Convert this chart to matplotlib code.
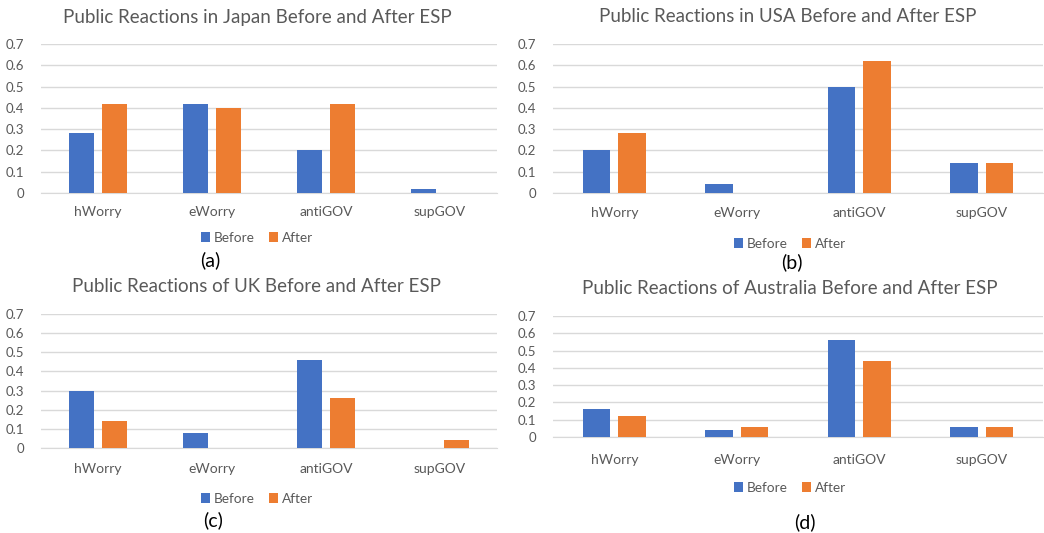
import matplotlib
matplotlib.use('Agg')
import matplotlib.pyplot as plt
import numpy as np

plt.rcParams['font.family'] = ['Lato', 'DejaVu Sans']

categories = ['hWorry', 'eWorry', 'antiGOV', 'supGOV']

japan_before = [0.28, 0.42, 0.20, 0.02]
japan_after = [0.42, 0.40, 0.42, 0.0]
usa_before = [0.20, 0.04, 0.50, 0.14]
usa_after = [0.28, 0.0, 0.62, 0.14]
uk_before = [0.30, 0.08, 0.46, 0.0]
uk_after = [0.14, 0.0, 0.26, 0.04]
aus_before = [0.16, 0.04, 0.56, 0.06]
aus_after = [0.12, 0.06, 0.44, 0.06]

y_ticks = [0, 0.1, 0.2, 0.3, 0.4, 0.5, 0.6, 0.7]

BLUE = '#4472C4'
ORANGE = '#ED7D31'
TEXT = '#595959'
GRID = '#D9D9D9'

W, H = 1044, 533
fig = plt.figure(figsize=(W / 100, H / 100), dpi=100)
fig.patch.set_facecolor('white')


def fx(x):
    return x / W


def fy(y):
    return 1 - y / H


def panel(box, title, title_xy, before, after, cat_y, leg_xy, tag, tag_xy):
    # box in pixels: left, top, right, bottom
    l, t, r, b = box
    ax = fig.add_axes([fx(l), fy(b), fx(r - l), (b - t) / H])
    x = np.arange(len(categories))
    w = 0.225
    off = 0.145
    ax.bar(x - off, before, w, color=BLUE, label='Before', zorder=3)
    ax.bar(x + off, after, w, color=ORANGE, label='After', zorder=3)
    ax.set_xlim(-0.5, len(categories) - 0.5)
    ax.set_ylim(0, 0.7)
    ax.set_yticks(y_ticks)
    ax.set_yticklabels([f'{v:g}' for v in y_ticks])
    ax.yaxis.grid(True, color=GRID, linewidth=1.0, zorder=0)
    for s in ['top', 'right', 'left']:
        ax.spines[s].set_visible(False)
    ax.spines['bottom'].set_color(GRID)
    ax.tick_params(axis='y', length=0, labelsize=9.5, labelcolor=TEXT, pad=12)
    ax.tick_params(axis='x', length=0, labelbottom=False)
    for i, c in enumerate(categories):
        fig.text(fx(l + (r - l) * (i + 0.5) / len(categories)), fy(cat_y), c,
                 ha='center', va='center', fontsize=10, color=TEXT)
    fig.text(fx(title_xy[0]), fy(title_xy[1]), title, ha='center', va='center',
             fontsize=13.5, color=TEXT)
    ax.legend(loc='center', bbox_to_anchor=(fx(leg_xy[0]), fy(leg_xy[1])),
              bbox_transform=fig.transFigure, ncol=2, frameon=False,
              fontsize=9.8, labelcolor=TEXT, handlelength=0.65, handleheight=0.75,
              handletextpad=0.3, columnspacing=1.0)
    fig.text(fx(tag_xy[0]), fy(tag_xy[1]), tag, ha='center', va='center',
             fontsize=14, color='black')
    return ax


panel((41, 44, 497, 193), 'Public Reactions in Japan Before and After ESP', (257, 17),
      japan_before, japan_after, 212, (257, 238), '(a)', (210, 260))
panel((553, 44, 1043, 193), 'Public Reactions in USA Before and After ESP', (788, 17),
      usa_before, usa_after, 213, (790, 244), '(b)', (792, 262))
panel((41, 314, 497, 448), 'Public Reactions of UK Before and After ESP', (256, 287),
      uk_before, uk_after, 469, (257, 499), '(c)', (213, 520))
panel((553, 316, 1043, 437), 'Public Reactions of Australia Before and After ESP', (790, 288),
      aus_before, aus_after, 460, (790, 488), '(d)', (805, 522))

fig.savefig('out.png', dpi=100, facecolor='white')
